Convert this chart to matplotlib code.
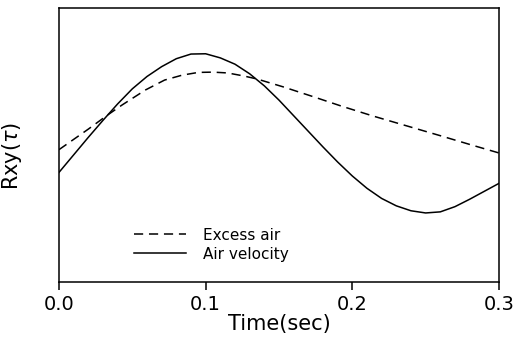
import matplotlib
matplotlib.use("Agg")
import matplotlib.pyplot as plt

# cross-correlation curves, normalised units
t_vel = [0.0, 0.01, 0.02, 0.03, 0.04, 0.05, 0.06, 0.07, 0.08, 0.09, 0.10,
         0.11, 0.12, 0.13, 0.14, 0.15, 0.16, 0.17, 0.18, 0.19, 0.20,
         0.21, 0.22, 0.23, 0.24, 0.25, 0.26, 0.27, 0.28, 0.29, 0.30]
r_vel = [0.400, 0.464, 0.528, 0.590, 0.650, 0.705, 0.750, 0.786, 0.815,
         0.832, 0.833, 0.818, 0.795, 0.760, 0.716, 0.664, 0.607, 0.550,
         0.493, 0.438, 0.387, 0.342, 0.305, 0.278, 0.260, 0.252, 0.256,
         0.275, 0.302, 0.331, 0.360]

t_air = [0.0, 0.02, 0.033, 0.043, 0.059, 0.072, 0.084, 0.095, 0.105, 0.115,
         0.126, 0.135, 0.153, 0.173, 0.192, 0.214, 0.237, 0.26, 0.282, 0.3]
r_air = [0.483, 0.558, 0.609, 0.646, 0.701, 0.737, 0.755, 0.765, 0.766,
         0.763, 0.752, 0.741, 0.712, 0.677, 0.643, 0.606, 0.570, 0.534,
         0.499, 0.471]

xticks = [0.0, 0.1, 0.2, 0.3]

plt.rcParams['font.family'] = 'DejaVu Sans'
fig = plt.figure(figsize=(5.21, 3.47), dpi=100)
ax = fig.add_axes([0.1132, 0.1873, 0.8445, 0.7896])

ax.plot(t_air, r_air, color='black', lw=1.1, ls=(0, (6, 3.8)), label='Excess air')
ax.plot(t_vel, r_vel, color='black', lw=1.1, ls='-', label='Air velocity')

ax.set_xlim(0, 0.3)
ax.set_ylim(0, 1)
ax.set_xticks(xticks)
ax.set_xticklabels(['%.1f' % v for v in xticks], fontsize=14)
ax.set_yticks([])
ax.tick_params(axis='x', direction='out', length=6, width=1.1, pad=3)
for s in ax.spines.values():
    s.set_linewidth(1.1)

ax.set_xlabel('Time(sec)', fontsize=15, labelpad=0)
ax.set_ylabel(r'Rxy($\tau$)', fontsize=15)
ax.yaxis.set_label_coords(-0.08, 0.46)

ax.legend(loc='upper left', bbox_to_anchor=(0.153, 0.226), frameon=False,
          fontsize=11, handlelength=3.4, handletextpad=1.1,
          labelspacing=0.25, borderpad=0)

fig.savefig('out.png', dpi=100)
